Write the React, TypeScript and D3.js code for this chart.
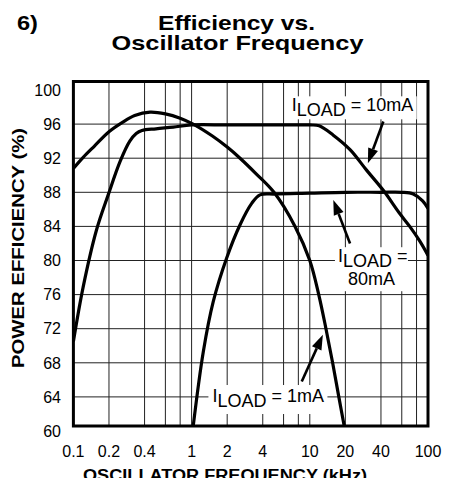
import React from "react";
import * as d3 from "d3";

// ---- data ----
const xTickValues = [0.1, 0.2, 0.4, 1, 2, 4, 10, 20, 40, 100];
const xTickLabels = ["0.1", "0.2", "0.4", "1", "2", "4", "10", "20", "40", "100"];
const xGridValues = [0.2, 0.4, 0.6, 0.8, 1, 2, 4, 6, 8, 10, 20, 40, 60, 80];
const yTickValues = [100, 96, 92, 88, 84, 80, 76, 72, 68, 64, 60];
const yGridValues = [96, 92, 88, 84, 80, 76, 72, 68, 64];

const freq1mA = [0.1, 0.121, 0.15, 0.2, 0.26, 0.33, 0.445, 0.6, 0.8, 1.03, 1.5, 2, 2.57, 3.5, 4.98, 7.5, 10, 11.9, 13.7, 15.6, 17.6, 19.9];
const eff1mA = [90.8, 92.1, 93.4, 95.1, 96.2, 97.0, 97.4, 97.2, 96.7, 96.0, 94.6, 93.3, 92.0, 90.2, 88.0, 84.0, 80.0, 76.0, 72.0, 68.0, 64.0, 60.0];

const freq10mA = [0.1, 0.121, 0.157, 0.197, 0.248, 0.3, 0.34, 0.38, 0.5, 0.7, 1, 2, 5, 10, 12, 15.8, 21.9, 30.2, 42, 57, 70, 85, 100];
const eff10mA = [70.5, 76.9, 83.6, 87.7, 91.6, 94.0, 94.9, 95.25, 95.45, 95.65, 95.9, 95.9, 95.9, 95.9, 95.8, 94.7, 93.0, 90.6, 88.2, 85.6, 84.0, 82.3, 80.6];

const freq80mA = [1.02, 1.256, 1.526, 1.98, 2.57, 3.225, 3.79, 5.08, 10, 20, 40, 60, 75, 90, 100];
const eff80mA = [60, 69.3, 75.2, 80.3, 84.2, 86.7, 87.7, 87.8, 87.9, 88.0, 88.0, 88.0, 87.8, 87.0, 86.1];

const seriesNames = ["1mA", "10mA", "80mA"];

// annotation anchors (data space)
const label10 = { f: 7.03, v: 97.5 };
const arrow10 = { f0: 41.9, v0: 96.3, f1: 31, v1: 91.4 };
const label80 = { f: 17.3, v: 79.8, f2: 33.3, v2: 77.1 };
const arrow80 = { f0: 21.9, v0: 82.0, f1: 15.8, v1: 87.1 };
const label1 = { f: 1.5, v: 63.4 };
const arrow1 = { f0: 8.55, v0: 65.8, f1: 12.9, v1: 71.3 };

// ---- layout ----
const W = 453;
const H = 478;
const frame = { left: 73.4, right: 428, top: 81.5, bottom: 426 };
const FONT = "'Liberation Sans', Arial, Helvetica, sans-serif";

const x = d3.scaleLog().domain([0.1, 100]).range([frame.left, frame.right]);
const y = d3.scaleLinear().domain([60, 100]).range([431, 90]);

const line = d3
  .line<[number, number]>()
  .x((d) => x(d[0]))
  .y((d) => y(d[1]))
  .curve(d3.curveCatmullRom.alpha(0.5));

function Arrow({ f0, v0, f1, v1 }: { f0: number; v0: number; f1: number; v1: number }) {
  const x0 = x(f0), y0 = y(v0), x1 = x(f1), y1 = y(v1);
  const ang = Math.atan2(y1 - y0, x1 - x0);
  const L = 15, hw = 5.2;
  const bx = x1 - L * Math.cos(ang);
  const by = y1 - L * Math.sin(ang);
  const px = -Math.sin(ang) * hw;
  const py = Math.cos(ang) * hw;
  return (
    <g>
      <line x1={x0} y1={y0} x2={bx} y2={by} stroke="#000" strokeWidth={2.6} />
      <polygon points={`${x1},${y1} ${bx + px},${by + py} ${bx - px},${by - py}`} fill="#000" />
    </g>
  );
}

function ILoad({ px, py, rest }: { px: number; py: number; rest: string }) {
  return (
    <text x={px} y={py} fontSize={18} fontFamily={FONT} fill="#000">
      <tspan>I</tspan>
      <tspan dy={5}>LOAD</tspan>
      <tspan dy={-5}>{rest}</tspan>
    </text>
  );
}

export default function App() {
  const series = [
    { name: seriesNames[0], f: freq1mA, v: eff1mA },
    { name: seriesNames[1], f: freq10mA, v: eff10mA },
    { name: seriesNames[2], f: freq80mA, v: eff80mA },
  ];

  const l10x = x(label10.f), l10y = y(label10.v);
  const l80x = x(label80.f), l80y = y(label80.v);
  const l1x = x(label1.f), l1y = y(label1.v);

  return (
    <svg
      width={W}
      height={H}
      viewBox={`0 0 ${W} ${H}`}
      style={{ position: "absolute", left: 0, top: 0, background: "#fff" }}
    >
      <defs>
        <clipPath id="plotClip">
          <rect x={frame.left} y={frame.top} width={frame.right - frame.left} height={frame.bottom - frame.top} />
        </clipPath>
      </defs>
      <rect x={0} y={0} width={W} height={H} fill="#fff" />

      {/* titles */}
      <text x={17} y={30} fontSize={21} fontWeight="bold" fontFamily={FONT} textLength={21} lengthAdjust="spacingAndGlyphs">6)</text>
      <text x={236.5} y={30} fontSize={21} fontWeight="bold" fontFamily={FONT} textAnchor="middle" textLength={157} lengthAdjust="spacingAndGlyphs">Efficiency vs.</text>
      <text x={237.5} y={49.5} fontSize={21} fontWeight="bold" fontFamily={FONT} textAnchor="middle" textLength={252} lengthAdjust="spacingAndGlyphs">Oscillator Frequency</text>

      {/* grid */}
      <g stroke="#222" strokeWidth={1}>
        {yGridValues.map((v) => (
          <line key={"h" + v} x1={frame.left} x2={frame.right} y1={y(v)} y2={y(v)} />
        ))}
        {xGridValues.map((f) => (
          <line key={"v" + f} x1={x(f)} x2={x(f)} y1={frame.top} y2={frame.bottom} />
        ))}
      </g>

      {/* curves */}
      <g clipPath="url(#plotClip)">
        {series.map((s) => (
          <path
            key={s.name}
            d={line(s.f.map((f, i) => [f, s.v[i]] as [number, number])) || ""}
            fill="none"
            stroke="#000"
            strokeWidth={3.2}
            strokeLinejoin="round"
          />
        ))}
      </g>

      {/* annotation boxes */}
      <rect x={l10x - 5} y={l10y - 15} width={130} height={23} fill="#fff" />
      <rect x={l80x - 3} y={l80y - 15} width={73} height={44} fill="#fff" />
      <rect x={l1x - 4} y={l1y - 17} width={119} height={29} fill="#fff" />

      <ILoad px={l10x} py={l10y} rest={" = 10mA"} />
      <ILoad px={l80x} py={l80y} rest={" ="} />
      <text x={x(label80.f2)} y={y(label80.v2)} fontSize={18} fontFamily={FONT} textAnchor="middle">80mA</text>
      <ILoad px={l1x} py={l1y} rest={" = 1mA"} />

      <Arrow {...arrow10} />
      <Arrow {...arrow80} />
      <Arrow {...arrow1} />

      {/* frame */}
      <rect
        x={frame.left}
        y={frame.top}
        width={frame.right - frame.left}
        height={frame.bottom - frame.top}
        fill="none"
        stroke="#000"
        strokeWidth={3}
      />

      {/* y tick labels */}
      {yTickValues.map((v) => (
        <text key={"yl" + v} x={61} y={y(v)} dy="0.36em" fontSize={16} fontFamily={FONT} textAnchor="end">
          {v}
        </text>
      ))}
      {/* x tick labels */}
      {xTickValues.map((f, i) => (
        <text key={"xl" + f} x={x(f)} y={456.5} fontSize={16} fontFamily={FONT} textAnchor="middle">
          {xTickLabels[i]}
        </text>
      ))}

      {/* axis titles */}
      <text
        transform={`translate(24,248) rotate(-90)`}
        fontSize={16}
        fontWeight="bold"
        fontFamily={FONT}
        textAnchor="middle"
        textLength={240}
        lengthAdjust="spacingAndGlyphs"
      >
        POWER EFFICIENCY (%)
      </text>
      <text
        x={225}
        y={481}
        fontSize={16}
        fontWeight="bold"
        fontFamily={FONT}
        textAnchor="middle"
        textLength={284}
        lengthAdjust="spacingAndGlyphs"
      >
        OSCILLATOR FREQUENCY (kHz)
      </text>
    </svg>
  );
}
